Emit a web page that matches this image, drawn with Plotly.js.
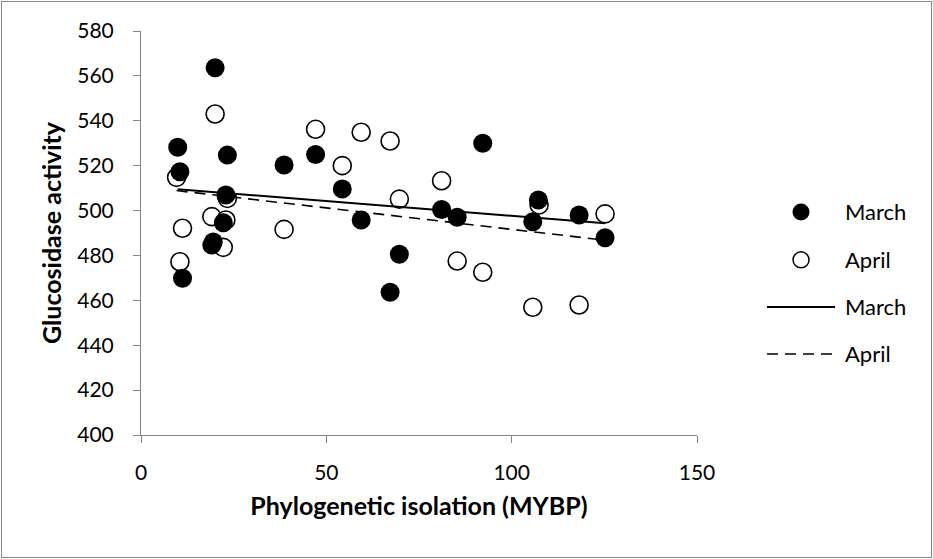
<!DOCTYPE html>
<html>
<head>
<meta charset="utf-8">
<script src="https://cdn.plot.ly/plotly-3.0.1.min.js"></script>
<style>
  html, body { margin: 0; padding: 0; background: #fff; }
  #wrap { position: relative; width: 933px; height: 559px; }
  #chart { width: 933px; height: 559px; }
  #frame { position: absolute; left: 1px; top: 1px; width: 929px; height: 555px; border: 1px solid #868686; pointer-events: none; }
</style>
</head>
<body>
<div id="wrap"><div id="chart"></div><div id="frame"></div></div>
<script>
// Data
const marchX = [9.9, 10.5, 11.2, 20.0, 19.1, 19.5, 22.2, 23.3, 22.9, 38.6, 47.1, 54.3, 59.4, 67.2, 69.7, 81.1, 85.3, 92.2, 105.7, 107.2, 118.2, 125.2];
const marchY = [528.2, 517.3, 469.8, 563.6, 484.6, 486.0, 494.6, 524.7, 506.9, 520.3, 525.0, 509.6, 495.8, 463.6, 480.5, 500.5, 497.0, 530.0, 495.0, 504.7, 498.0, 487.9];

const aprilX = [9.6, 10.5, 11.2, 20.0, 19.1, 22.9, 23.3, 22.2, 38.6, 47.1, 54.3, 59.4, 67.2, 69.7, 81.1, 85.3, 92.2, 105.7, 107.4, 118.2, 125.2];
const aprilY = [514.8, 477.2, 492.1, 543.0, 497.3, 495.8, 505.4, 483.6, 491.6, 536.2, 520.0, 534.9, 531.0, 505.1, 513.3, 477.5, 472.5, 456.9, 502.5, 457.9, 498.5];

const marchTrendX = [9.9, 125.2];
const marchTrendY = [509.5, 494.3];
const aprilTrendX = [9.6, 125.2];
const aprilTrendY = [508.9, 486.8];

const legendLabels = ["March", "April", "March", "April"];
const xTicks = [0, 50, 100, 150];
const yTicks = [400, 420, 440, 460, 480, 500, 520, 540, 560, 580];

const FONT = "Lato, 'Open Sans', sans-serif";

const traces = [
  {
    x: aprilX, y: aprilY, type: "scatter", mode: "markers", name: legendLabels[1],
    marker: { symbol: "circle", size: 18, color: "#ffffff", line: { color: "#000000", width: 1.6 } }
  },
  {
    x: marchX, y: marchY, type: "scatter", mode: "markers", name: legendLabels[0],
    marker: { symbol: "circle", size: 19, color: "#000000", line: { color: "#000000", width: 0 } }
  },
  {
    x: marchTrendX, y: marchTrendY, type: "scatter", mode: "lines", name: legendLabels[2],
    line: { color: "#000000", width: 2 }
  },
  {
    x: aprilTrendX, y: aprilTrendY, type: "scatter", mode: "lines", name: legendLabels[3],
    line: { color: "#000000", width: 1.6, dash: "11px,7px" }
  }
];

// Legend drawn in paper coordinates (Excel-style legend to the right)
const legRowsY = [0.552, 0.4335, 0.317, 0.2005];
const legMarkX = 1.1871;
const legLineX0 = 1.1259, legLineX1 = 1.2482;
const legTextX = 1.262;

const shapes = [
  { type: "circle", xref: "paper", yref: "paper", xsizemode: "pixel", ysizemode: "pixel",
    xanchor: legMarkX, yanchor: legRowsY[0], x0: -8.5, x1: 8.5, y0: -8.5, y1: 8.5,
    fillcolor: "#000000", line: { color: "#000000", width: 0 } },
  { type: "circle", xref: "paper", yref: "paper", xsizemode: "pixel", ysizemode: "pixel",
    xanchor: legMarkX, yanchor: legRowsY[1], x0: -8, x1: 8, y0: -8, y1: 8,
    fillcolor: "#ffffff", line: { color: "#000000", width: 1.5 } },
  { type: "line", xref: "paper", yref: "paper", x0: legLineX0, x1: legLineX1, y0: legRowsY[2], y1: legRowsY[2],
    line: { color: "#000000", width: 2 } },
  { type: "line", xref: "paper", yref: "paper", x0: legLineX0, x1: legLineX1, y0: legRowsY[3], y1: legRowsY[3],
    line: { color: "#000000", width: 1.6, dash: "11px,7px" } }
];

const annotations = legendLabels.map((t, i) => ({
  text: t, xref: "paper", yref: "paper", x: legTextX, y: legRowsY[i],
  xanchor: "left", yanchor: "middle", showarrow: false,
  font: { family: FONT, size: 22, color: "#000000" }
}));

const layout = {
  width: 933, height: 559,
  margin: { l: 141, r: 236, t: 31, b: 124 },
  paper_bgcolor: "#ffffff", plot_bgcolor: "#ffffff",
  font: { family: FONT, size: 21, color: "#000000" },
  showlegend: false,
  shapes: shapes,
  annotations: annotations,
  xaxis: {
    range: [0, 150], tickvals: xTicks, ticktext: xTicks.map(String),
    showgrid: false, zeroline: false, showline: true, linecolor: "#868686", linewidth: 1,
    ticks: "outside", ticklen: 7, tickcolor: "#868686", tickwidth: 1,
    ticklabelstandoff: 12,
    tickfont: { family: FONT, size: 21 },
    title: { text: "<b>Phylogenetic isolation (MYBP)</b>", font: { family: FONT, size: 25 }, standoff: 14 }
  },
  yaxis: {
    range: [400, 580], tickvals: yTicks, ticktext: yTicks.map(String),
    showgrid: false, zeroline: false, showline: true, linecolor: "#868686", linewidth: 1,
    ticks: "outside", ticklen: 7, tickcolor: "#868686", tickwidth: 1,
    ticklabelstandoff: 15,
    tickfont: { family: FONT, size: 21 },
    title: { text: "<b>Glucosidase activity</b>", font: { family: FONT, size: 25 }, standoff: 8 }
  }
};

Plotly.newPlot("chart", traces, layout, { displayModeBar: false, staticPlot: true });
</script>
</body>
</html>
